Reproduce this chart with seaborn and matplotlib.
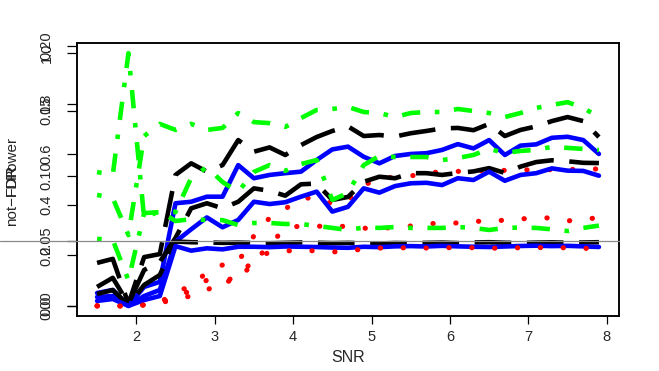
import numpy as np
import pandas as pd
import matplotlib
matplotlib.use("Agg")
import matplotlib.pyplot as plt
import seaborn as sns
from matplotlib.transforms import blended_transform_factory

# ---------------- data ----------------
snr = [1.5, 1.7, 1.9, 2.1, 2.3, 2.5, 2.7, 2.9, 3.1, 3.3, 3.5, 3.7, 3.9, 4.1, 4.3, 4.5, 4.7,
       4.9, 5.1, 5.3, 5.5, 5.7, 5.9, 6.1, 6.3, 6.5, 6.7, 6.9, 7.1, 7.3, 7.5, 7.7, 7.9]

power_black = [0.170, 0.186, 0.008, 0.193, 0.205, 0.518, 0.564, 0.531, 0.557, 0.656, 0.610,
               0.627, 0.597, 0.636, 0.668, 0.692, 0.710, 0.672, 0.676, 0.670, 0.683, 0.692,
               0.702, 0.704, 0.695, 0.720, 0.672, 0.696, 0.710, 0.731, 0.747, 0.731, 0.668]
power_blue = [0.051, 0.063, 0.000, 0.075, 0.095, 0.406, 0.412, 0.432, 0.432, 0.557, 0.505,
              0.518, 0.525, 0.531, 0.577, 0.619, 0.630, 0.590, 0.564, 0.593, 0.601, 0.604,
              0.617, 0.640, 0.623, 0.656, 0.597, 0.634, 0.639, 0.665, 0.669, 0.656, 0.601]
power_green = [0.439, 0.427, 0.280, 0.672, 0.720, 0.696, 0.720, 0.696, 0.704, 0.763, 0.727,
               0.723, 0.708, 0.743, 0.775, 0.779, 0.787, 0.767, 0.763, 0.747, 0.763, 0.767,
               0.767, 0.779, 0.771, 0.763, 0.747, 0.763, 0.783, 0.795, 0.806, 0.783, 0.747]
power_red = [0.0, 0.0, 0.0, 0.004, 0.011, 0.059, 0.075, 0.134, 0.162, 0.174, 0.277, 0.348,
             0.384, 0.423, 0.431, 0.403, 0.419, 0.478, 0.502, 0.510, 0.514, 0.526, 0.530,
             0.532, 0.534, 0.536, 0.536, 0.538, 0.538, 0.539, 0.540, 0.540, 0.542]

notfdr_black = [0.075, 0.111, 0.008, 0.142, 0.174, 0.269, 0.386, 0.406, 0.386, 0.412, 0.465,
                0.455, 0.436, 0.481, 0.484, 0.419, 0.431, 0.491, 0.511, 0.505, 0.525, 0.525,
                0.518, 0.526, 0.532, 0.545, 0.526, 0.551, 0.569, 0.576, 0.572, 0.566, 0.565]
notfdr_blue = [0.035, 0.039, 0.000, 0.039, 0.063, 0.254, 0.303, 0.350, 0.311, 0.340, 0.412,
               0.403, 0.410, 0.432, 0.452, 0.373, 0.392, 0.465, 0.448, 0.474, 0.485, 0.487,
               0.478, 0.505, 0.498, 0.531, 0.495, 0.518, 0.525, 0.544, 0.535, 0.534, 0.515]
notfdr_green = [0.265, 0.261, 0.102, 0.367, 0.371, 0.371, 0.506, 0.549, 0.490, 0.451, 0.530,
                0.557, 0.534, 0.561, 0.577, 0.419, 0.447, 0.557, 0.593, 0.589, 0.589, 0.589,
                0.577, 0.585, 0.597, 0.621, 0.605, 0.613, 0.617, 0.629, 0.625, 0.621, 0.617]
notfdr_red = [0.0, 0.0, 0.0, 0.004, 0.015, 0.031, 0.063, 0.102, 0.095, 0.102, 0.174, 0.241,
              0.308, 0.316, 0.316, 0.312, 0.316, 0.308, 0.300, 0.316, 0.316, 0.324, 0.328,
              0.328, 0.336, 0.332, 0.340, 0.344, 0.348, 0.348, 0.336, 0.344, 0.348]

fdr_black = [0.0092, 0.0122, 0.0007, 0.0161, 0.0238, 0.0495, 0.0490, 0.0488, 0.0485, 0.0487,
             0.0484, 0.0482, 0.0485, 0.0488, 0.0486, 0.0483, 0.0485, 0.0482, 0.0480, 0.0484,
             0.0482, 0.0485, 0.0487, 0.0483, 0.0488, 0.0490, 0.0486, 0.0484, 0.0487, 0.0489,
             0.0486, 0.0488, 0.0490]
fdr_blue = [0.0038, 0.0053, 0.0, 0.0045, 0.0076, 0.0460, 0.0425, 0.0443, 0.0435, 0.0455,
            0.0455, 0.0452, 0.0457, 0.0455, 0.0453, 0.0449, 0.0447, 0.0455, 0.0452, 0.0458,
            0.0460, 0.0457, 0.0462, 0.0458, 0.0455, 0.0453, 0.0457, 0.0461, 0.0463, 0.0460,
            0.0462, 0.0458, 0.0453]
fdr_green = [0.1030, 0.1007, 0.1945, 0.0676, 0.0730, 0.0653, 0.0668, 0.0660, 0.0660, 0.0622,
             0.0638, 0.0638, 0.0630, 0.0630, 0.0615, 0.0600, 0.0584, 0.0603, 0.0600, 0.0607,
             0.0600, 0.0600, 0.0600, 0.0607, 0.0600, 0.0584, 0.0600, 0.0603, 0.0600, 0.0589,
             0.0576, 0.0600, 0.0618]
fdr_red = [0.0, 0.0, 0.0, 0.0007, 0.0022, 0.0053, 0.0076, 0.0122, 0.0184, 0.0230, 0.0353,
           0.0415, 0.0422, 0.0430, 0.0422, 0.0415, 0.0422, 0.0438, 0.0445, 0.0445, 0.0448,
           0.0445, 0.0450, 0.0445, 0.0448, 0.0445, 0.0442, 0.0448, 0.0450, 0.0445, 0.0448,
           0.0442, 0.0445]

power_ticks = [0.0, 0.2, 0.4, 0.6, 0.8, 1.0]
power_labels = ["0.0", "0.2", "0.4", "0.6", "0.8", "1.0"]
fdr_ticks = [0.0, 0.05, 0.10, 0.15, 0.20]
fdr_labels = ["0.00", "0.05", "0.10", "0.15", "0.20"]
snr_ticks = [2, 3, 4, 5, 6, 7, 8]
fdr_level = 0.05

# ---------------- style ----------------
sns.set_theme(style="white")
plt.rcParams['font.family'] = ['Liberation Sans', 'DejaVu Sans']

W, H = 659, 371
fig = plt.figure(figsize=(W / 100, H / 100), dpi=100)
fig.patch.set_facecolor("white")
ax = fig.add_axes([77 / W, 1 - 316 / H, 542 / W, 273 / H])
ax.set_facecolor("white")
ax2 = ax.twinx()

x_lo, x_hi = min(snr), max(snr)
pad_x = 0.04 * (x_hi - x_lo)
ax.set_xlim(x_lo - pad_x, x_hi + pad_x)
ax.set_ylim(-0.04, 1.04)
fmax = max(fdr_green)
ax2.set_ylim(-0.04 * fmax, 1.04 * fmax)

LW = 3.3
styles = {
    "black": dict(color="#000000", dashes=(8.0, 3.4), cap="butt", lw=LW),
    "blue": dict(color="#0000FF", dashes=None, cap="round", lw=LW),
    "green": dict(color="#00FF00", dashes=(1.0, 3.2, 4.0, 3.2), cap="butt", lw=LW),
    "red": dict(color="#FF0000", dashes=(0.05, 4.4), cap="round", lw=3.7),
}


def draw(axis, yvals, key):
    st = styles[key]
    df = pd.DataFrame({"SNR": snr, "val": yvals})
    sns.lineplot(data=df, x="SNR", y="val", ax=axis, color=st["color"], linewidth=st["lw"],
                 errorbar=None, sort=False, legend=False)
    ln = axis.lines[-1]
    if st["dashes"] is not None:
        ln.set_dashes(st["dashes"])
    ln.set_dash_capstyle(st["cap"])
    ln.set_solid_capstyle("round")
    ln.set_solid_joinstyle("round")
    ln.set_dash_joinstyle("round")


for vals, key in [(power_black, "black"), (power_blue, "blue"),
                  (power_green, "green"), (power_red, "red")]:
    draw(ax, vals, key)
for vals, key in [(notfdr_black, "black"), (notfdr_blue, "blue"),
                  (notfdr_green, "green"), (notfdr_red, "red")]:
    draw(ax, vals, key)
for vals, key in [(fdr_black, "black"), (fdr_blue, "blue"),
                  (fdr_green, "green"), (fdr_red, "red")]:
    draw(ax2, vals, key)

# nominal FDR level line (extends to figure's left edge)
trans = blended_transform_factory(ax2.transAxes, ax2.transData)
ax2.plot([-77 / 542, 1.0], [fdr_level, fdr_level], transform=trans, color="#8a8a8a",
         lw=0.9, clip_on=False, zorder=5)

# axes cosmetics
for a in (ax, ax2):
    for s in a.spines.values():
        s.set_color("black")
        s.set_linewidth(1.1)
ax.set_xticks(snr_ticks)
ax.set_xticklabels([str(t) for t in snr_ticks])
ax.tick_params(axis="x", direction="out", length=6, width=0.9, color="black",
               labelsize=10.5, pad=4, bottom=True)
ax.set_yticks(power_ticks)
ax.set_yticklabels(power_labels)
ax2.set_yticks(fdr_ticks)
ax2.set_yticklabels(fdr_labels)
ax2.yaxis.tick_left()
for a in (ax, ax2):
    a.tick_params(axis="y", direction="out", length=7, width=0.9, color="black",
                  labelsize=10.5, pad=10, left=True, right=False, labelrotation=90)
    for lab in a.get_yticklabels():
        lab.set_va("center")
        lab.set_ha("right")
ax.set_xlabel("")
ax.set_ylabel("")
ax2.set_ylabel("")

fig.text(348 / W, 1 - 358 / H, "SNR", ha="center", va="center", fontsize=11.5)
fig.text(12 / W, 1 - 157 / H, "Power", rotation=90, ha="center", va="center", fontsize=11)
fig.text(12 / W, 1 - 180 / H, "FDR", rotation=90, ha="center", va="center", fontsize=11)
fig.text(12 / W, 1 - 195 / H, "not\u2212FDR", rotation=90, ha="center", va="center",
         fontsize=11)

fig.savefig("out.png", dpi=100, facecolor="white")
